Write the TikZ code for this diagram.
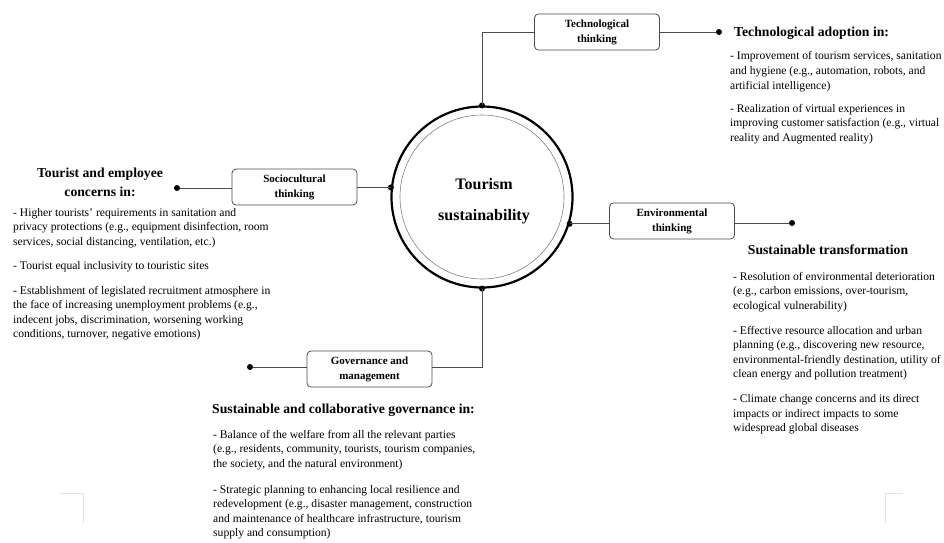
\documentclass[tikz,border=0pt]{standalone}
\usepackage{fontspec}
\setmainfont{Liberation Serif}
\begin{document}
\begin{tikzpicture}[x=1pt,y=-1pt,
  box/.style={draw=black!70,line width=0.8pt,rounded corners=4pt,minimum width=125pt,minimum height=36pt,align=center,font=\fontsize{11}{15}\selectfont\bfseries,inner sep=0pt},
  conn/.style={draw=black!70,line width=0.9pt},
  dot/.style={circle,fill=black,inner sep=0pt,minimum size=6pt},
  head/.style={font=\fontsize{13.7}{19}\selectfont\bfseries,inner sep=0pt},
  body/.style={align=left,inner sep=0pt,anchor=north west,font=\fontsize{11.6}{14.6}\selectfont},
  crop/.style={draw=black!10,line width=0.8pt}
]
\useasboundingbox (0,0) rectangle (944,542);
% central circle
\node[circle,draw=black,line width=2.2pt,minimum size=181pt,inner sep=0pt] (C) at (482,197) {};
\draw[black!50,line width=0.6pt] (C.center) circle (82);
\node[font=\fontsize{16}{31}\selectfont\bfseries,align=center] (ct) at (484,201) {Tourism\\sustainability};
% boxes
\node[box] (tech) at (597,32) {Technological\\thinking};
\node[box] (socio) at (294.5,187) {Sociocultural\\thinking};
\node[box] (env) at (672,221) {Environmental\\thinking};
\node[box] (gov) at (369.5,369) {Governance and\\management};
% dots
\node[dot] (dT) at (719,32) {};
\node[dot] (dS) at (177,188) {};
\node[dot] (dE) at (792,223) {};
\node[dot] (dG) at (250,367) {};
\coordinate (cT) at (C.90);
\coordinate (cS) at (C.174);
\coordinate (cE) at (C.-17);
\coordinate (cG) at (C.270);
\foreach \p in {cT,cS,cE,cG} \fill (\p) circle (3);
% connectors
\draw[conn] (cT) |- (tech.west);
\draw[conn] (tech.east) -- (dT);
\draw[conn] (cS) -- (socio.east |- cS);
\draw[conn] (socio.west |- dS) -- (dS);
\draw[conn] (cE) -- (env.west |- cE);
\draw[conn] (env.east |- dE) -- (dE);
\draw[conn] (cG) |- (gov.east |- dG);
\draw[conn] (gov.west |- dG) -- (dG);
% headings
\node[head,anchor=west] (hT) at (734,33) {Technological adoption in:};
\node[head,align=center] (hS) at (100,182.5) {Tourist and employee\\concerns in:};
\node[head] (hE) at (828,250) {Sustainable transformation};
\node[head,anchor=west] (hG) at (212,410) {Sustainable and collaborative governance in:};
% bodies
\node[body] (bT) at (730,51.5) {%
- Improvement of tourism services, sanitation\\
and hygiene (e.g., automation, robots, and\\
artificial intelligence)\\[8.5pt]
- Realization of virtual experiences in\\
improving customer satisfaction (e.g., virtual\\
reality and Augmented reality)};
\node[body] (bS) at (13,208) {%
- Higher tourists' requirements in sanitation and\\
privacy protections (e.g., equipment disinfection, room\\
services, social distancing, ventilation, etc.)\\[9.5pt]
- Tourist equal inclusivity to touristic sites\\[10pt]
- Establishment of legislated recruitment atmosphere in\\
the face of increasing unemployment problems (e.g.,\\
indecent jobs, discrimination, worsening working\\
conditions, turnover, negative emotions)};
\node[body] (bE) at (733,272) {%
- Resolution of environmental deterioration\\
(e.g., carbon emissions, over-tourism,\\
ecological vulnerability)\\[10pt]
- Effective resource allocation and urban\\
planning (e.g., discovering new resource,\\
environmental-friendly destination, utility of\\
clean energy and pollution treatment)\\[10pt]
- Climate change concerns and its direct\\
impacts or indirect impacts to some\\
widespread global diseases};
\node[body] (bG) at (213,430) {%
- Balance of the welfare from all the relevant parties\\
(e.g., residents, community, tourists, tourism companies,\\
the society, and the natural environment)\\[11pt]
- Strategic planning to enhancing local resilience and\\
redevelopment (e.g., disaster management, construction\\
and maintenance of healthcare infrastructure, tourism\\
supply and consumption)};
% faint crop marks
\draw[crop] (60,493) -- (83,493) -- (83,523);
\draw[crop] (903,493) -- (885,493) -- (885,523);
\end{tikzpicture}
\end{document}
